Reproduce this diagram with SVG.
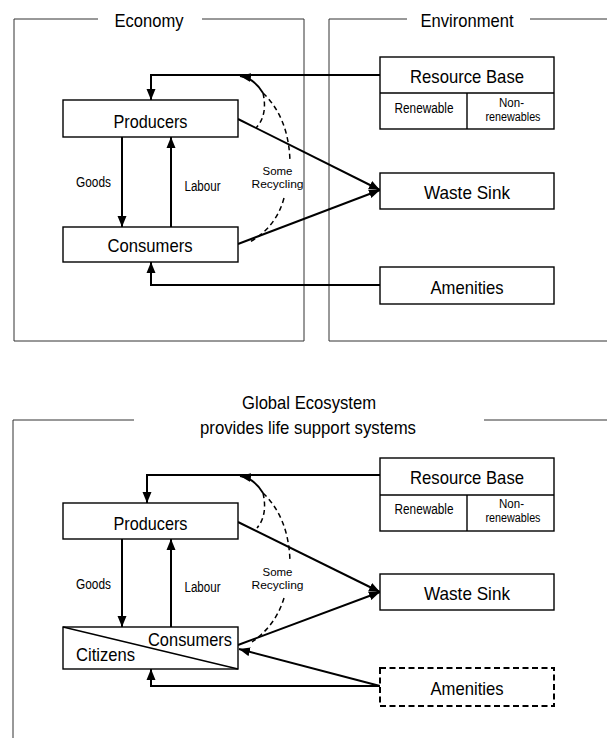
<svg xmlns="http://www.w3.org/2000/svg" width="607" height="738" viewBox="0 0 607 738">
<style>
text{font-family:"Liberation Sans",Arial,sans-serif;fill:#000;text-anchor:middle}
.big{font-size:19px}
.sm{font-size:14px}
.xs{font-size:12px}
.xxs{font-size:11px}
.frame{fill:none;stroke:#333;stroke-width:1}
.box{fill:#fff;stroke:#000;stroke-width:1.4}
.dbox{fill:#fff;stroke:#000;stroke-width:2;stroke-dasharray:6,3.5}
.arr{fill:none;stroke:#000;stroke-width:2;marker-end:url(#ah)}
.dash{fill:none;stroke:#000;stroke-width:1.5;stroke-dasharray:5,3.5}
.cv{fill:none;stroke:#000;stroke-width:1.8}
</style>
<defs>
<marker id="ah" markerUnits="userSpaceOnUse" markerWidth="12" markerHeight="10" refX="11" refY="5" orient="auto">
<path d="M0,0.5 L11,5 L0,9.5 z" fill="#000"/>
</marker>
</defs>

<!-- TOP: frames -->
<g id="economy-frame">
<path class="frame" d="M98,19 H14 V341 H304 V19 H202"/>
<text class="big" x="149" y="27" textLength="69" lengthAdjust="spacingAndGlyphs">Economy</text>
</g>
<g id="environment-frame">
<path class="frame" d="M407,19 H329 V341 H607 M530,19 H607"/>
<text class="big" x="467" y="27" textLength="93" lengthAdjust="spacingAndGlyphs">Environment</text>
</g>

<!-- TOP: connectors -->
<g id="top-connectors">
<path class="arr" d="M380,75 H151 V100"/>
<path class="arr" d="M122,137 V227"/>
<path class="arr" d="M171,227 V137"/>
<path class="arr" d="M238,119 L380,190"/>
<path class="arr" d="M238,244 L380,190"/>
<path class="arr" d="M380,285 H151 V262"/>
<path class="cv" d="M263,93 Q254,78 240,76" marker-end="url(#ah)"/>
<path class="dash" d="M263,93 Q268,115 256,128"/>
<path class="dash" d="M263,93 Q289,118 290,162"/>
<path class="dash" d="M284,198 Q276,228 248,243"/>
</g>

<!-- TOP: nodes -->
<g id="producers-top">
<rect class="box" x="63" y="100" width="175" height="37"/>
<text class="big" x="150.5" y="127.5" textLength="74" lengthAdjust="spacingAndGlyphs">Producers</text>
</g>
<g id="consumers-top">
<rect class="box" x="63" y="227" width="175" height="35"/>
<text class="big" x="150" y="252" textLength="85" lengthAdjust="spacingAndGlyphs">Consumers</text>
</g>
<g id="labels-top">
<text class="sm" x="93.5" y="187" textLength="35" lengthAdjust="spacingAndGlyphs">Goods</text>
<text class="sm" x="202.5" y="191" textLength="36" lengthAdjust="spacingAndGlyphs">Labour</text>
<text class="xxs" x="277.5" y="175" textLength="30" lengthAdjust="spacingAndGlyphs">Some</text>
<text class="xxs" x="277.5" y="188" textLength="52" lengthAdjust="spacingAndGlyphs">Recycling</text>
</g>
<g id="resource-base-top">
<rect class="box" x="380" y="57" width="174" height="72"/>
<line class="box" x1="380" y1="93" x2="554" y2="93"/>
<line class="box" x1="467" y1="93" x2="467" y2="129"/>
<text class="big" x="467" y="83" textLength="114" lengthAdjust="spacingAndGlyphs">Resource Base</text>
<text class="sm" x="424" y="113" textLength="59" lengthAdjust="spacingAndGlyphs">Renewable</text>
<text class="xs" x="511.5" y="107" textLength="25" lengthAdjust="spacingAndGlyphs">Non-</text>
<text class="xs" x="513" y="121" textLength="55" lengthAdjust="spacingAndGlyphs">renewables</text>
</g>
<g id="waste-sink-top">
<rect class="box" x="380" y="173" width="174" height="36"/>
<text class="big" x="467" y="199" textLength="86" lengthAdjust="spacingAndGlyphs">Waste Sink</text>
</g>
<g id="amenities-top">
<rect class="box" x="380" y="267" width="174" height="37"/>
<text class="big" x="467" y="294" textLength="73" lengthAdjust="spacingAndGlyphs">Amenities</text>
</g>

<!-- BOTTOM: frame -->
<g id="global-frame">
<path class="frame" d="M134,420 H13 V738 M484,420 H607"/>
<text class="big" x="309" y="409" textLength="134" lengthAdjust="spacingAndGlyphs">Global Ecosystem</text>
<text class="big" x="308" y="434" textLength="216" lengthAdjust="spacingAndGlyphs">provides life support systems</text>
</g>

<!-- BOTTOM: connectors -->
<g id="bottom-connectors">
<path class="arr" d="M380,475 H147 V503"/>
<path class="arr" d="M122,539 V627"/>
<path class="arr" d="M171,627 V539"/>
<path class="arr" d="M238,522 L380,592"/>
<path class="arr" d="M238,645 L380,592"/>
<path class="arr" d="M380,686 L239,649"/>
<path class="arr" d="M380,686 H151 V669"/>
<path class="cv" d="M263,493 Q254,478 240,476" marker-end="url(#ah)"/>
<path class="dash" d="M263,493 Q268,515 257,528"/>
<path class="dash" d="M263,493 Q289,518 290,562"/>
<path class="dash" d="M284,598 Q276,625 252,642"/>
</g>

<!-- BOTTOM: nodes -->
<g id="producers-bottom">
<rect class="box" x="63" y="503" width="175" height="36"/>
<text class="big" x="150.5" y="530" textLength="74" lengthAdjust="spacingAndGlyphs">Producers</text>
</g>
<g id="consumers-citizens">
<rect class="box" x="63" y="627" width="175" height="42"/>
<line class="box" x1="63" y1="627" x2="238" y2="669"/>
<text class="big" x="190" y="646" textLength="84" lengthAdjust="spacingAndGlyphs">Consumers</text>
<text class="big" x="105.5" y="661" textLength="59" lengthAdjust="spacingAndGlyphs">Citizens</text>
</g>
<g id="labels-bottom">
<text class="sm" x="93.5" y="589" textLength="35" lengthAdjust="spacingAndGlyphs">Goods</text>
<text class="sm" x="202.5" y="592" textLength="36" lengthAdjust="spacingAndGlyphs">Labour</text>
<text class="xxs" x="277.5" y="576" textLength="30" lengthAdjust="spacingAndGlyphs">Some</text>
<text class="xxs" x="277.5" y="589" textLength="52" lengthAdjust="spacingAndGlyphs">Recycling</text>
</g>
<g id="resource-base-bottom">
<rect class="box" x="380" y="458" width="174" height="73"/>
<line class="box" x1="380" y1="495" x2="554" y2="495"/>
<line class="box" x1="467" y1="495" x2="467" y2="531"/>
<text class="big" x="467" y="484" textLength="114" lengthAdjust="spacingAndGlyphs">Resource Base</text>
<text class="sm" x="424" y="514" textLength="59" lengthAdjust="spacingAndGlyphs">Renewable</text>
<text class="xs" x="511.5" y="508" textLength="25" lengthAdjust="spacingAndGlyphs">Non-</text>
<text class="xs" x="513" y="522" textLength="55" lengthAdjust="spacingAndGlyphs">renewables</text>
</g>
<g id="waste-sink-bottom">
<rect class="box" x="380" y="574" width="174" height="36"/>
<text class="big" x="467" y="600" textLength="86" lengthAdjust="spacingAndGlyphs">Waste Sink</text>
</g>
<g id="amenities-bottom">
<rect class="dbox" x="380" y="668" width="174" height="38"/>
<text class="big" x="467" y="695" textLength="73" lengthAdjust="spacingAndGlyphs">Amenities</text>
</g>
</svg>
